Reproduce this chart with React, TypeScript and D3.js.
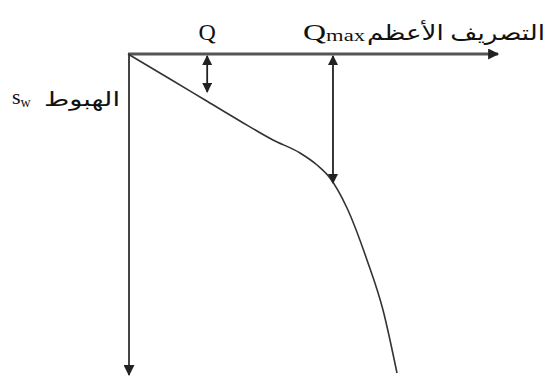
import React from "react";
import * as d3 from "d3";

const W = 547;
const H = 383;

// drawdown curve: discharge (x) vs drawdown (y), normalized 0..100
const curveQ = [0, 11.35, 20.81, 30.27, 39.19, 46.49, 51.08, 54.59, 59.19, 64.59, 68.92, 72.7];
const curveS = [0, 7.79, 14.33, 20.87, 26.79, 30.84, 34.58, 38.63, 47.98, 64.17, 79.75, 99.38];

// annotation arrows
const arrowQ = [21.4, 55.4];
const arrowS = [11.8, 40.2];

const axisLabelX = "التصريف الأعظم";
const axisLabelY = "الهبوط";

export default function App() {
  const x = d3.scaleLinear().domain([0, 100]).range([128, 498]);
  const y = d3.scaleLinear().domain([0, 100]).range([54, 375]);
  const pts: [number, number][] = curveQ.map((q, i) => [q, curveS[i]]);
  const line = d3
    .line<[number, number]>()
    .x((d) => x(d[0]))
    .y((d) => y(d[1]))
    .curve(d3.curveMonotoneX);

  const ink = "#222";
  const serif = "'Liberation Serif', 'Times New Roman', serif";
  const arabic = "'Liberation Serif', 'DejaVu Sans', 'Noto Sans', serif";

  return (
    <svg
      width={W}
      height={H}
      style={{ position: "absolute", left: 0, top: 0, background: "#fff" }}
    >
      <defs>
        <marker id="ah" viewBox="0 0 10 10" refX="9" refY="5" markerWidth="10" markerHeight="10" markerUnits="userSpaceOnUse" orient="auto-start-reverse">
          <path d="M0,0 L10,5 L0,10 Z" fill={ink} />
        </marker>
        <marker id="ahBig" viewBox="0 0 10 10" refX="9" refY="5" markerWidth="12" markerHeight="11" markerUnits="userSpaceOnUse" orient="auto-start-reverse">
          <path d="M0,0 L10,5 L0,10 Z" fill={ink} />
        </marker>
      </defs>

      {/* horizontal axis */}
      <line x1={x(0)} y1={y(0)} x2={x(100)} y2={y(0)} stroke="#555" strokeWidth={3} markerEnd="url(#ahBig)" />
      {/* vertical axis */}
      <line x1={x(0) + 1} y1={y(0)} x2={x(0) + 1} y2={y(100)} stroke="#444" strokeWidth={2} markerEnd="url(#ahBig)" />

      {/* curve */}
      <path d={line(pts) || ""} fill="none" stroke="#333" strokeWidth={1.6} />

      {/* arrows */}
      {arrowQ.map((q, i) => (
        <line
          key={i}
          x1={x(q)}
          y1={y(0) + 2}
          x2={x(q)}
          y2={y(arrowS[i])}
          stroke={ink}
          strokeWidth={1.8}
          markerStart="url(#ah)"
          markerEnd="url(#ah)"
        />
      ))}

      {/* labels */}
      <text x={x(arrowQ[0])} y={40} textAnchor="middle" fontFamily={serif} fontSize={24} fill="#111">Q</text>
      <text x={303} y={40} fontFamily={serif} fontSize={24} fill="#111" textLength={62} lengthAdjust="spacingAndGlyphs">
        Q<tspan fontSize={17} dy={1}>max</tspan>
      </text>
      <text x={545} y={40} textAnchor="end" fontFamily={arabic} fontSize={21} fill="#111" textLength={178} lengthAdjust="spacingAndGlyphs">{axisLabelX}</text>

      <text x={120} y={106} textAnchor="end" fontFamily={arabic} fontSize={20} fill="#111" textLength={76} lengthAdjust="spacingAndGlyphs">{axisLabelY}</text>
      <text x={12} y={104} fontFamily={serif} fontSize={22} fill="#111">
        s<tspan fontSize={14} dy={3}>w</tspan>
      </text>
    </svg>
  );
}
